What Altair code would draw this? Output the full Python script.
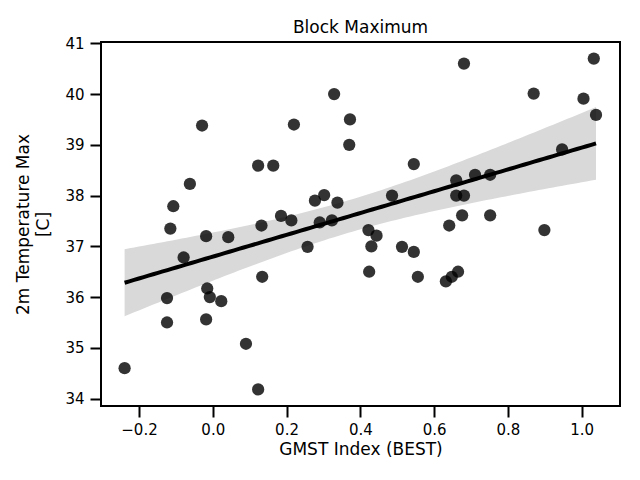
import altair as alt
import numpy as np
import pandas as pd

gmst = [-0.239, -0.124, -0.124, -0.115, -0.107, -0.079, -0.062, -0.029, -0.018, -0.015,
        -0.008, -0.018, 0.023, 0.042, 0.090, 0.123, 0.123, 0.164, 0.132, 0.134,
        0.185, 0.213, 0.220, 0.257, 0.277, 0.290, 0.302, 0.323, 0.338, 0.329,
        0.370, 0.372, 0.422, 0.430, 0.444, 0.424, 0.486, 0.513, 0.545, 0.545,
        0.556, 0.632, 0.648, 0.665, 0.641, 0.660, 0.660, 0.681, 0.676, 0.681,
        0.711, 0.752, 0.752, 0.870, 0.899, 0.947, 1.005, 1.033, 1.039]
tmax = [34.60, 35.50, 35.98, 37.35, 37.79, 36.78, 38.23, 39.38, 37.20, 36.17,
        36.00, 35.56, 35.92, 37.18, 35.08, 34.18, 38.59, 38.59, 37.41, 36.40,
        37.60, 37.51, 39.40, 36.99, 37.90, 37.47, 38.01, 37.51, 37.86, 40.00,
        39.00, 39.50, 37.32, 37.00, 37.21, 36.50, 38.00, 36.99, 36.89, 38.62,
        36.40, 36.31, 36.40, 36.50, 37.41, 38.30, 38.00, 38.00, 37.61, 40.60,
        38.41, 38.41, 37.61, 40.01, 37.32, 38.91, 39.91, 40.70, 39.59]

x_ticks = [-0.2, 0.0, 0.2, 0.4, 0.6, 0.8, 1.0]
y_ticks = [34, 35, 36, 37, 38, 39, 40, 41]

df = pd.DataFrame({"gmst": gmst, "tmax": tmax})

# regression fit and 95% confidence band
xa = np.array(gmst)
ya = np.array(tmax)
n = len(xa)
b, a = np.polyfit(xa, ya, 1)
resid = ya - (a + b * xa)
s = np.sqrt(np.sum(resid ** 2) / (n - 2))
sxx = np.sum((xa - xa.mean()) ** 2)
grid = np.linspace(xa.min(), xa.max(), 100)
yhat = a + b * grid
se = s * np.sqrt(1.0 / n + (grid - xa.mean()) ** 2 / sxx)
tval = 2.002
band = pd.DataFrame({"gmst": grid, "fit": yhat, "lo": yhat - tval * se, "hi": yhat + tval * se})

FONT = "DejaVu Sans"
xdom = [-0.303, 1.104]
ydom = [33.854, 41.026]

xscale = alt.Scale(domain=xdom, nice=False, zero=False)
yscale = alt.Scale(domain=ydom, nice=False, zero=False)

xaxis = alt.Axis(values=x_ticks, format=".1f", title="GMST Index (BEST)", grid=False,
                 domain=False, tickSize=11, tickWidth=2, tickColor="black",
                 labelFont=FONT, labelFontSize=15, labelColor="black", labelPadding=5,
                 titleFont=FONT, titleFontSize=17, titleFontWeight="normal",
                 titleColor="black", titlePadding=4)
yaxis = alt.Axis(values=y_ticks, format="d", grid=False,
                 title=["2m Temperature Max", "[C]"],
                 domain=False, tickSize=11, tickWidth=2, tickColor="black",
                 labelFont=FONT, labelFontSize=15, labelColor="black", labelPadding=6,
                 titleFont=FONT, titleFontSize=17, titleFontWeight="normal",
                 titleColor="black", titleAngle=270, titleBaseline="top",
                 titleAlign="center", titleX=-86, titleY=182, titleLineHeight=20)

area = alt.Chart(band).mark_area(color="#d9d9d9", opacity=1).encode(
    x=alt.X("gmst:Q", scale=xscale, axis=xaxis),
    y=alt.Y("lo:Q", scale=yscale, axis=yaxis),
    y2="hi:Q",
)

line = alt.Chart(band).mark_line(color="black", strokeWidth=4).encode(
    x=alt.X("gmst:Q", scale=xscale),
    y=alt.Y("fit:Q", scale=yscale),
)

points = alt.Chart(df).mark_circle(size=150, color="black", opacity=0.8).encode(
    x=alt.X("gmst:Q", scale=xscale),
    y=alt.Y("tmax:Q", scale=yscale),
)

chart = alt.layer(area, points, line).properties(
    width=519, height=364,
    title=alt.TitleParams("Block Maximum", font=FONT, fontSize=17, fontWeight="normal",
                          color="black", offset=-1, frame="group"),
    autosize=alt.AutoSizeParams(type="none"),
    padding={"left": 93, "top": 34, "right": 12, "bottom": 66},
    background="white",
).configure_view(stroke="black", strokeWidth=2)

chart.save("out.html", embed_options={"renderer": "svg", "actions": False})
